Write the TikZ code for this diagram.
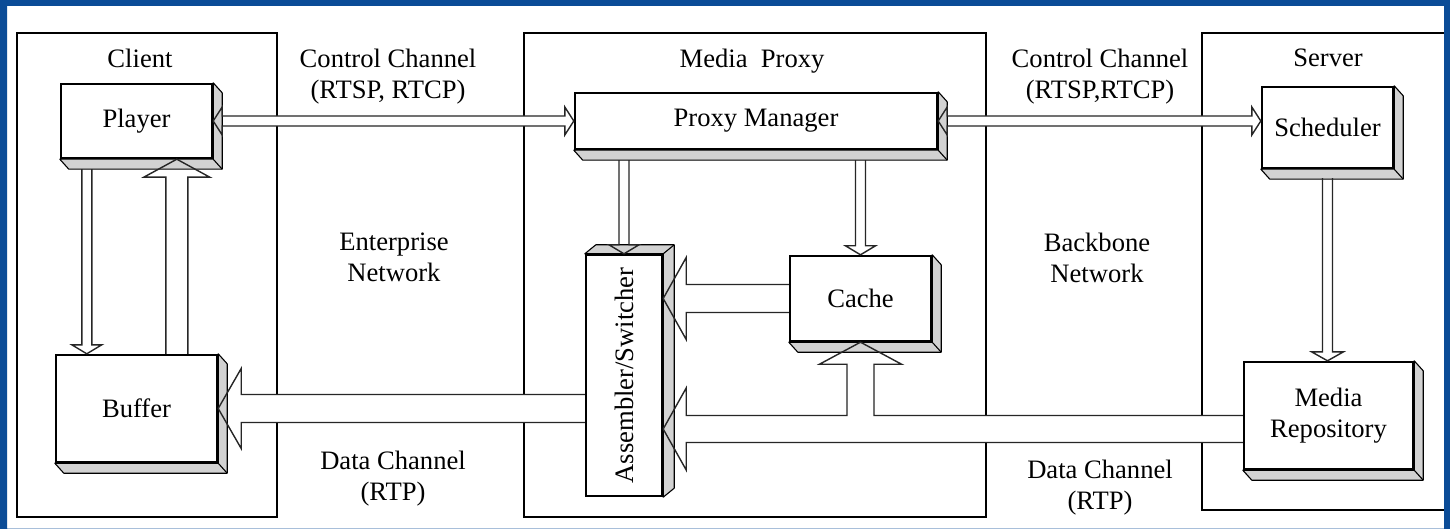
\documentclass[tikz,border=0pt]{standalone}
\usepackage{fontspec}
\setmainfont{Liberation Serif}
\usetikzlibrary{calc}

\pgfdeclarelayer{back}
\pgfdeclarelayer{shade}
\pgfsetlayers{back,shade,main}

\definecolor{framebg}{HTML}{0B4C97}
\definecolor{sidegray}{HTML}{D2D2D2}
\newcommand{\boxfont}{\fontsize{13.3}{15.5}\selectfont}

% side faces of the raised boxes
\newcommand{\sinkbox}[1]{%
  \begin{pgfonlayer}{shade}
    \filldraw[sideface] (#1.north east) -- ($(#1.north east)+(9,10)$) -- ($(#1.south east)+(9,10)$) -- ($(#1.south west)+(9,10)$) -- (#1.south west) -- (#1.south east) -- cycle;
    \draw[sideface] (#1.south east) -- ++(9,10);
  \end{pgfonlayer}}
\newcommand{\risebox}[1]{%
  \begin{pgfonlayer}{shade}
    \filldraw[sideface] (#1.north west) -- ($(#1.north west)+(11,-9)$) -- ($(#1.north east)+(11,-9)$) -- ($(#1.south east)+(11,-9)$) -- (#1.south east) -- (#1.north east) -- cycle;
    \draw[sideface] (#1.north east) -- ++(11,-9);
  \end{pgfonlayer}}

% hollow arrows: start, tip, shaft half width, head half width, head length
\newcommand{\flowarrow}[5]{%
  \coordinate (hb) at ($(#2)!#5!(#1)$);
  \def\flowpath{($(#1)!#3!90:(#2)$) -- ($(hb)!#3!90:(#2)$) -- ($(hb)!#4!90:(#2)$) -- (#2) -- ($(hb)!#4!-90:(#2)$) -- ($(hb)!#3!-90:(#2)$) -- ($(#1)!#3!-90:(#2)$)}%
  \begin{pgfonlayer}{back}\fill[white] \flowpath -- cycle;\end{pgfonlayer}
  \draw[flowline] \flowpath;}
\newcommand{\twinarrow}[5]{%
  \coordinate (ha) at ($(#1)!#5!(#2)$);
  \coordinate (hb) at ($(#2)!#5!(#1)$);
  \def\flowpath{(#1) -- ($(ha)!#4!90:(#2)$) -- ($(ha)!#3!90:(#2)$) -- ($(hb)!#3!90:(#2)$) -- ($(hb)!#4!90:(#2)$) -- (#2) -- ($(hb)!#4!-90:(#2)$) -- ($(hb)!#3!-90:(#2)$) -- ($(ha)!#3!-90:(#2)$) -- ($(ha)!#4!-90:(#2)$) -- cycle}%
  \begin{pgfonlayer}{back}\fill[white] \flowpath;\end{pgfonlayer}
  \draw[flowline] \flowpath;}

\begin{document}
\begin{tikzpicture}[
    x=0.5pt, y=-0.5pt,
    zone/.style = {draw, line width=1pt},
    unit/.style = {draw, line width=1.2pt, fill=white, inner sep=0pt, align=center, font=\boxfont},
    note/.style = {align=center, font=\boxfont},
    sideface/.style = {draw, fill=sidegray, line width=0.55pt, line join=round},
    flowline/.style = {draw=black!85, line width=0.7pt, line join=miter}
]
    \useasboundingbox (0,0) rectangle (1450,529);
    \begin{pgfonlayer}{back}
        \fill[white] (0,0) rectangle (1450,529);
        \draw[zone] (17,33) rectangle (277,517);
        \draw[zone] (524,33) rectangle (986,517);
        \draw[zone] (1202,33) rectangle (1456,510);
    \end{pgfonlayer}

    \node [note] (client) at (140,58) {Client};
    \node [note] (proxy) at (752,61) {Media\ \ Proxy};
    \node [note] (server) at (1328,58) {Server};
    \node [note] (ctrlleft) at (388,77) {Control Channel\\(RTSP, RTCP)};
    \node [note] (ctrlright) at (1100,77) {Control Channel\\(RTSP,RTCP)};
    \node [note] (enterprise) at (394,257) {Enterprise\\Network};
    \node [note] (backbone) at (1097,258) {Backbone\\Network};
    \node [note] (dataleft) at (393,479) {Data Channel\\(RTP)};
    \node [note] (dataright) at (1100,488) {Data Channel\\(RTP)};

    \node [unit, minimum width=75.5pt, minimum height=37pt] (player) at (136.5,121) {Player};
    \node [unit, minimum width=80.5pt, minimum height=53.5pt] (buffer) at (136.5,408.5) {Buffer};
    \node [unit, minimum width=181pt, minimum height=28pt] (manager) at (756,121) {Proxy Manager};
    \node [unit, minimum width=38pt, minimum height=120.5pt] (switcher) at (624,375.5) {\rotatebox{90}{Assembler/Switcher}};
    \node [unit, minimum width=70.5pt, minimum height=42.5pt] (cache) at (860.5,298.5) {Cache};
    \node [unit, minimum width=65.5pt, minimum height=40.5pt] (scheduler) at (1327.5,127.5) {Scheduler};
    \node [unit, minimum width=84.5pt, minimum height=53.5pt] (repository) at (1328.5,415.5) {Media\\Repository};

    \sinkbox{player}
    \sinkbox{buffer}
    \sinkbox{manager}
    \risebox{switcher}
    \sinkbox{cache}
    \sinkbox{scheduler}
    \sinkbox{repository}

    \twinarrow{player.east}{manager.west}{2.5pt}{7pt}{4.5pt}
    \coordinate (schedin) at (scheduler.west |- manager.east);
    \twinarrow{manager.east}{schedin}{2.5pt}{7pt}{4.5pt}

    \coordinate (playerout) at ($(player.south west)+(27,10)$);
    \coordinate (bufferin) at (playerout |- buffer.north);
    \flowarrow{playerout}{bufferin}{2.5pt}{7.5pt}{4.5pt}
    \coordinate (switchin) at ($(switcher.north |- manager.south)+(0,10)$);
    \flowarrow{switchin}{switcher.north}{2.5pt}{7.5pt}{4.5pt}
    \coordinate (cachein) at ($(cache.north |- manager.south)+(0,10)$);
    \flowarrow{cachein}{cache.north}{2.5pt}{7.5pt}{4.5pt}
    \coordinate (schedout) at ($(scheduler.south)+(0,9)$);
    \coordinate (repoin) at (scheduler.south |- repository.north);
    \flowarrow{schedout}{repoin}{2.5pt}{8pt}{4.5pt}

    \coordinate (playerin) at ($(player.south west)+(117,0)$);
    \coordinate (bufferout) at (playerin |- buffer.north);
    \flowarrow{bufferout}{playerin}{5.5pt}{16.5pt}{9pt}
    \coordinate (switchout) at (buffer.east -| switcher.west);
    \flowarrow{switchout}{buffer.east}{7pt}{20pt}{11.5pt}
    \coordinate (cacheout) at (switcher.east |- cache.west);
    \flowarrow{cache.west}{cacheout}{7pt}{20.5pt}{11.5pt}

    \coordinate (repotop) at (repository.west);
    \coordinate (repobot) at ($(repository.west)+(0,27)$);
    \coordinate (repotip) at ($(switcher.east |- repotop)+(0,13.5)$);
    \coordinate (repofork) at (cache.south |- repotop);
    \def\flowpath{(repotop) -- ($(repofork)+(13.5,0)$) -- ($(cache.south)+(13.5,22)$) -- ($(cache.south)+(41,22)$) -- (cache.south) -- ($(cache.south)+(-41,22)$) -- ($(cache.south)+(-13.5,22)$) -- ($(repofork)+(-13.5,0)$) -- ($(repotip)+(23,-13.5)$) -- ($(repotip)+(23,-41)$) -- (repotip) -- ($(repotip)+(23,41)$) -- ($(repotip)+(23,13.5)$) -- (repobot)}
    \begin{pgfonlayer}{back}\fill[white] \flowpath -- cycle;\end{pgfonlayer}
    \draw[flowline] \flowpath;

    \fill[framebg, even odd rule] (0,0) rectangle (1450,529) (7,6) rectangle (1444,528.5);
\end{tikzpicture}
\end{document}
